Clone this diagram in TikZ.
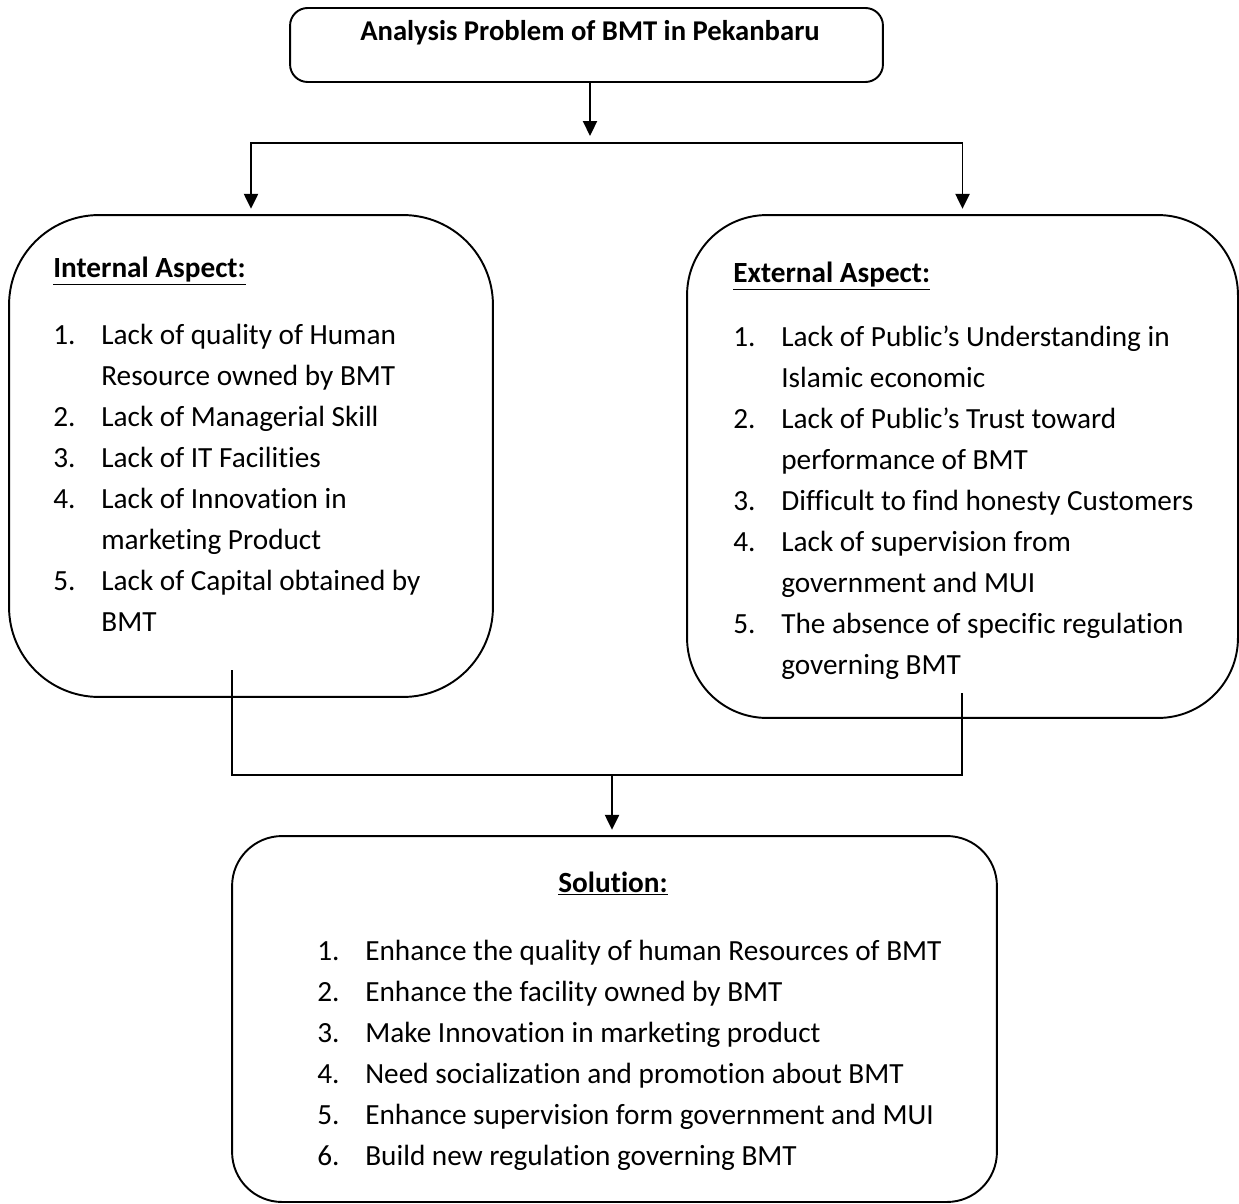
\documentclass[tikz,border=0pt]{standalone}
\usepackage{fontspec}
\setmainfont{Carlito}[Ligatures=NoCommon]
\usetikzlibrary{positioning, arrows.meta}

\newlength\numw
\setlength\numw{0.96cm}
\newcommand{\listnum}[1]{\makebox[\numw][l]{#1}}
\newcommand{\listgap}{\hspace*{\numw}}

\begin{document}
\begin{tikzpicture}[
  x=0.02cm, y=-0.02cm,
  every node/.style={font=\fontsize{16.65}{23.3}\selectfont},
  titlebox/.style={
    draw, line width=1.1pt, rounded corners=10pt,
    minimum width=11.86cm, minimum height=1.48cm
  },
  aspectbox/.style={draw, line width=1.1pt},
  listtext/.style={align=left, inner sep=0pt, anchor=base west},
  headtext/.style={inner sep=0pt, anchor=base west},
  line/.style={line width=1.1pt},
  arr/.style={-{Triangle[length=8.5pt, width=8pt]}, line width=1.1pt}
]
  \useasboundingbox (0,0) rectangle (1239,1203);

  \node[titlebox] (title) at (586.5,45) {};
  \node[inner sep=0pt, anchor=base, font=\fontsize{16.3}{20}\selectfont] (titletext) at (590,41) {\textbf{Analysis Problem of BMT in Pekanbaru}};

  \node[aspectbox, rounded corners=1.8cm, minimum width=9.68cm, minimum height=9.64cm] (inner) at (251,456) {};
  \node[aspectbox, rounded corners=1.6cm, minimum width=11.02cm, minimum height=10.06cm] (ext) at (962.5,466.5) {};
  \node[aspectbox, rounded corners=1cm, minimum width=15.3cm, minimum height=7.32cm] (sol) at (614.5,1019) {};

  % base of a list node = baseline of its last line
  \node[headtext] (inHead) at (53,277) {\underline{\textbf{Internal Aspect:}}};
  \node[listtext] (inList) at (53,631) {%
    \listnum{1.}Lack of quality of Human\\
    \listgap Resource owned by BMT\\
    \listnum{2.}Lack of Managerial Skill\\
    \listnum{3.}Lack of IT Facilities\\
    \listnum{4.}Lack of Innovation in\\
    \listgap marketing Product\\
    \listnum{5.}Lack of Capital obtained by\\
    \listgap BMT};

  \node[headtext] (exHead) at (733,282) {\underline{\textbf{External Aspect:}}};
  \node[listtext] (exList) at (733,674) {%
    \listnum{1.}Lack of Public’s Understanding in\\
    \listgap Islamic economic\\
    \listnum{2.}Lack of Public’s Trust toward\\
    \listgap performance of BMT\\
    \listnum{3.}Difficult to find honesty Customers\\
    \listnum{4.}Lack of supervision from\\
    \listgap government and MUI\\
    \listnum{5.}The absence of specific regulation\\
    \listgap governing BMT};

  \node[inner sep=0pt, anchor=base] (solHead) at (613,892) {\underline{\textbf{Solution:}}};
  \node[listtext] (solList) at (317,1165) {%
    \listnum{1.}Enhance the quality of human Resources of BMT\\
    \listnum{2.}Enhance the facility owned by BMT\\
    \listnum{3.}Make Innovation in marketing product\\
    \listnum{4.}Need socialization and promotion about BMT\\
    \listnum{5.}Enhance supervision form government and MUI\\
    \listnum{6.}Build new regulation governing BMT};

  \coordinate (fork) at (590,143);
  \coordinate (inOut) at (232,670);
  \coordinate (exOut) at (962,693);
  \coordinate (join) at (612,775);

  \draw[arr, shorten >=4pt] (title.south -| fork) -- (fork);
  \draw[arr, shorten >=3pt] (fork) -| (inner.north);
  \draw[arr, shorten >=3pt] (fork) -| (ext.north);
  \draw[line] (inOut) |- (exOut |- join) -- (exOut);
  \draw[arr, shorten >=3pt] (join) -- (join |- sol.north);
\end{tikzpicture}
\end{document}
